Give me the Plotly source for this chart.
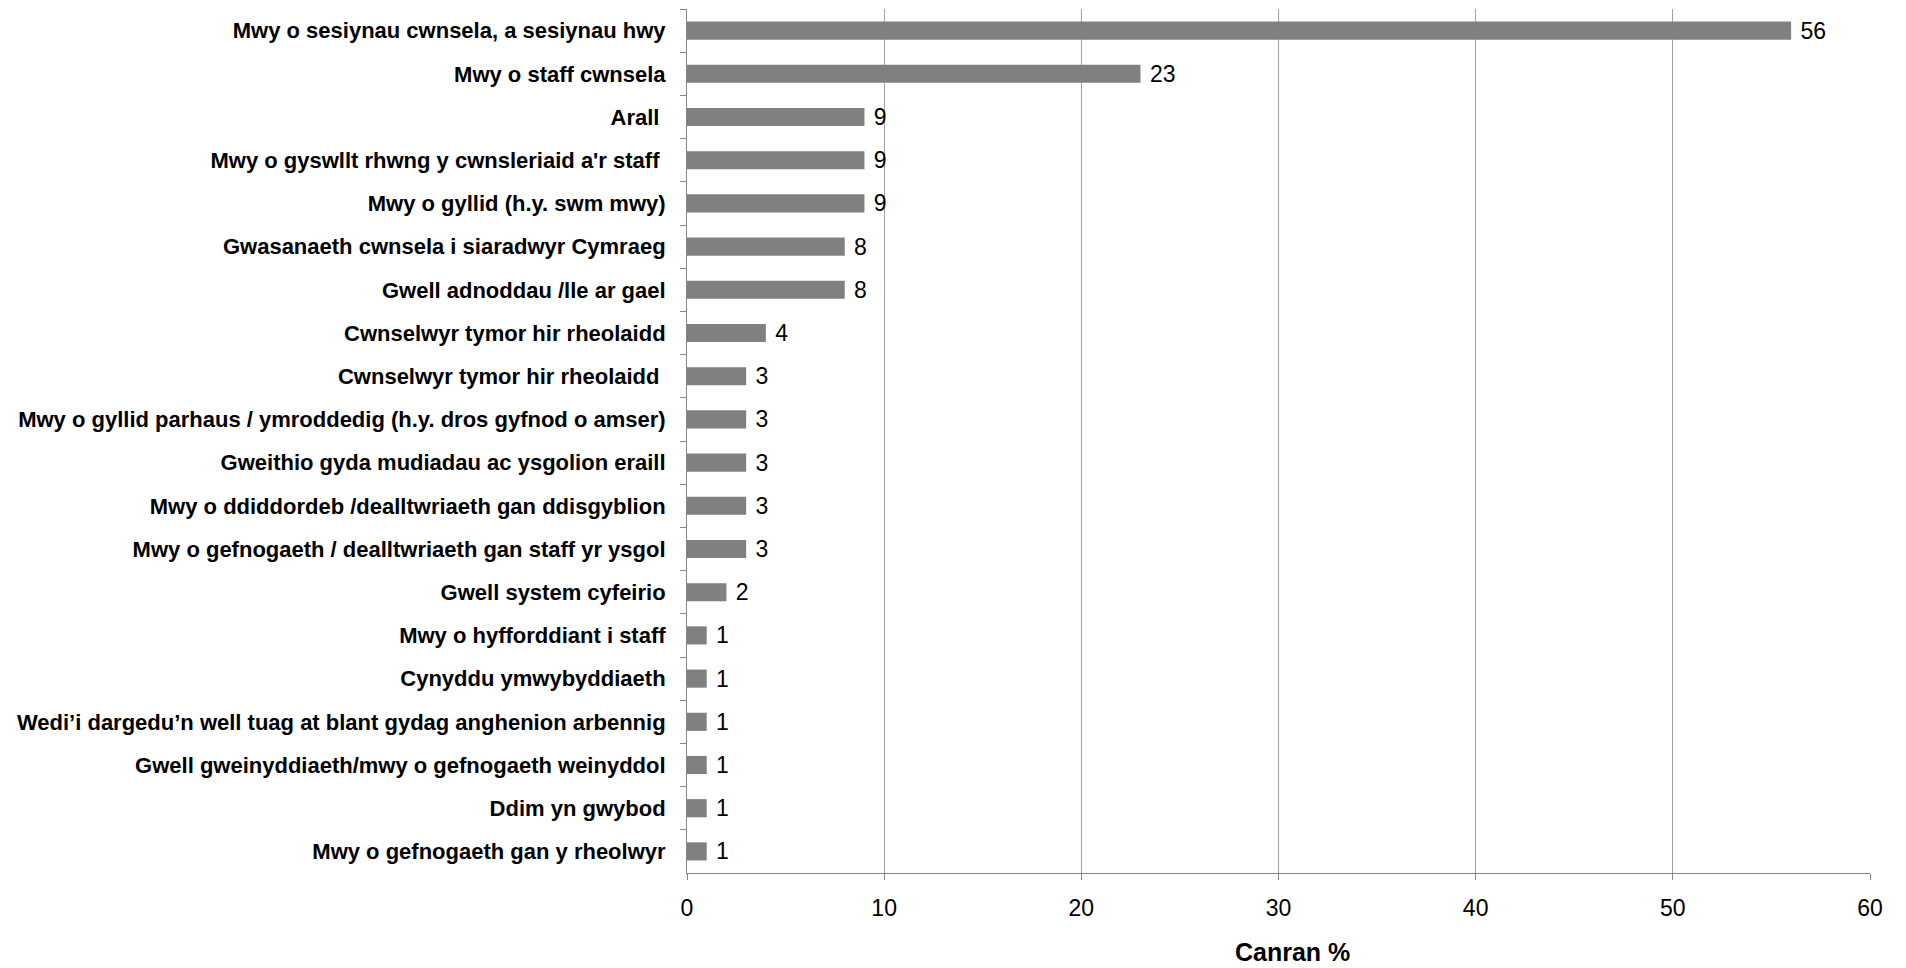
import plotly.graph_objects as go

categories = [
    "Mwy o sesiynau cwnsela, a sesiynau hwy",
    "Mwy o staff cwnsela",
    "Arall ",
    "Mwy o gyswllt rhwng y cwnsleriaid a'r staff ",
    "Mwy o gyllid (h.y. swm mwy)",
    "Gwasanaeth cwnsela i siaradwyr Cymraeg",
    "Gwell adnoddau /lle ar gael",
    "Cwnselwyr tymor hir rheolaidd",
    "Cwnselwyr tymor hir rheolaidd ",
    "Mwy o gyllid parhaus / ymroddedig (h.y. dros gyfnod o amser)",
    "Gweithio gyda mudiadau ac ysgolion eraill",
    "Mwy o ddiddordeb /dealltwriaeth gan ddisgyblion",
    "Mwy o gefnogaeth / dealltwriaeth gan staff yr ysgol",
    "Gwell system cyfeirio",
    "Mwy o hyfforddiant i staff",
    "Cynyddu ymwybyddiaeth",
    "Wedi\u2019i dargedu\u2019n well tuag at blant gydag anghenion arbennig",
    "Gwell gweinyddiaeth/mwy o gefnogaeth weinyddol",
    "Ddim yn gwybod",
    "Mwy o gefnogaeth gan y rheolwyr",
]
values = [56, 23, 9, 9, 9, 8, 8, 4, 3, 3, 3, 3, 3, 2, 1, 1, 1, 1, 1, 1]
x_ticks = [0, 10, 20, 30, 40, 50, 60]
x_title = "Canran %"

narrow = "Liberation Sans Narrow, Arial Narrow, Liberation Sans, Arial, sans-serif"

fig = go.Figure(go.Bar(
    y=categories,
    x=values,
    orientation="h",
    marker=dict(color="#808080", line=dict(width=0)),
    text=[" " + str(v) for v in values],
    textposition="outside",
    constraintext="none",
    cliponaxis=False,
    textfont=dict(family=narrow, size=23, color="#000000"),
))

fig.update_layout(
    width=1906,
    height=968,
    paper_bgcolor="white",
    plot_bgcolor="white",
    margin=dict(l=679, r=44, t=1, b=103, autoexpand=False),
    bargap=0.58,
    showlegend=False,
    font=dict(family=narrow, color="#000000"),
    annotations=[dict(
        text="<b>" + x_title + "</b>",
        xref="paper", yref="paper",
        x=0.512, y=0,
        xanchor="center", yanchor="middle",
        yshift=-79,
        showarrow=False,
        font=dict(family=narrow, size=25, color="#000000"),
    )],
)

fig.update_xaxes(
    range=[0, 60],
    tickvals=x_ticks,
    ticktext=[str(t) for t in x_ticks],
    showgrid=True,
    gridcolor="#a0a0a0",
    gridwidth=1,
    showline=True,
    linecolor="#868686",
    linewidth=1,
    ticks="outside",
    ticklen=6,
    tickcolor="#868686",
    tickfont=dict(family=narrow, size=23, color="#000000"),
    ticklabelstandoff=8,
    zeroline=False,
)

fig.update_yaxes(
    autorange="reversed",
    type="category",
    showline=True,
    linecolor="#868686",
    linewidth=1,
    ticks="outside",
    ticklen=6,
    tickcolor="#868686",
    tickson="boundaries",
    showgrid=False,
    tickfont=dict(family=narrow, size=22, color="#000000", weight="bold"),
    ticklabelstandoff=16,
)

fig.write_html("out.html")
